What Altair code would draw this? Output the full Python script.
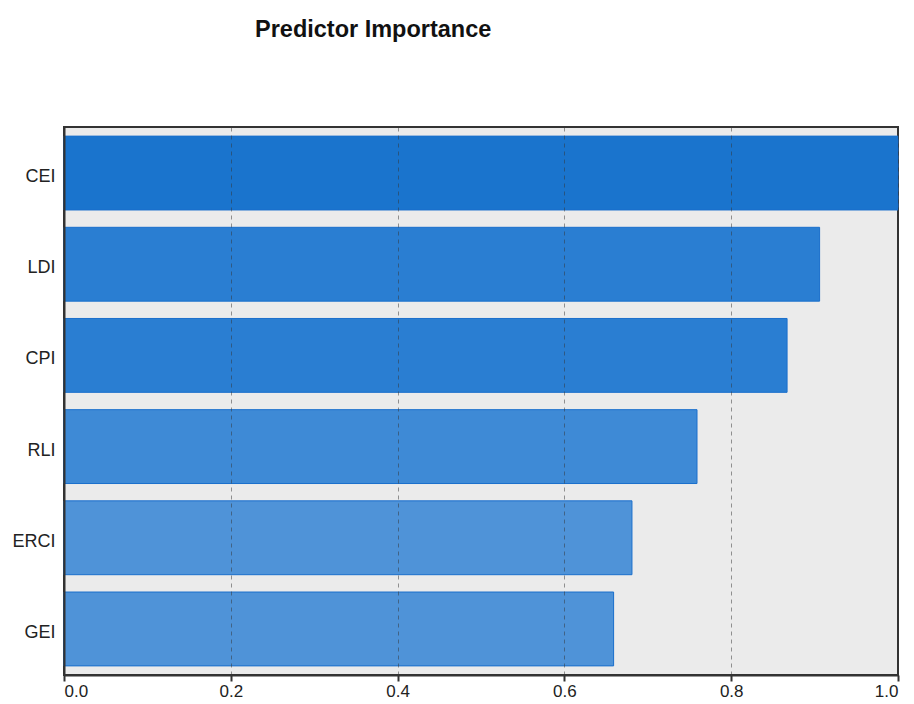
import altair as alt
import pandas as pd

predictors = ["CEI", "LDI", "CPI", "RLI", "ERCI", "GEI"]
importance = [1.0, 0.906, 0.867, 0.759, 0.681, 0.659]
colors = ["#1a74cd", "#2a7ed2", "#2a7ed2", "#3e8ad6", "#4f93d8", "#4f93d8"]
x_ticks = [0.0, 0.2, 0.4, 0.6, 0.8, 1.0]

df = pd.DataFrame({"predictor": predictors, "importance": importance, "color": colors})

bars = alt.Chart(df).mark_bar(stroke="#1a6fcc", strokeWidth=1).encode(
    x=alt.X("importance:Q",
            scale=alt.Scale(domain=[0, 1], nice=False, zero=True),
            axis=alt.Axis(values=x_ticks, format=".1f", title=None, zindex=1,
                          grid=True, gridDash=[4, 4], gridColor="#333333", gridOpacity=0.5, gridWidth=1,
                          domain=True, domainColor="#333333", domainWidth=2,
                          ticks=True, tickSize=6, tickColor="#333333", tickWidth=2,
                          labelFont="Liberation Sans", labelFontSize=17, labelColor="#222222",
                          labelPadding=2)),
    y=alt.Y("predictor:N", sort=predictors,
            scale=alt.Scale(paddingInner=0.19, paddingOuter=0.1),
            axis=alt.Axis(title=None, ticks=False, grid=False, zindex=1,
                          domain=True, domainColor="#333333", domainWidth=2,
                          labelFont="Liberation Sans", labelFontSize=18, labelColor="#222222",
                          labelPadding=9, labelOffset=4)),
    color=alt.Color("color:N", scale=None),
)

chart = bars.properties(
    width=834,
    height=548,
    title=alt.TitleParams("Predictor Importance", anchor="start", dx=243, offset=86,
                          font="Liberation Sans", fontSize=23.5, fontWeight="bold", color="#111111"),
    autosize=alt.AutoSizeParams(type="none"),
    padding={"left": 56, "top": 119, "right": 8, "bottom": 28},
).configure(
    background="white"
).configure_view(
    fill="#ebebeb", stroke="#333333", strokeWidth=2
)

chart.save("out.html", embed_options={"renderer": "svg", "actions": False})
